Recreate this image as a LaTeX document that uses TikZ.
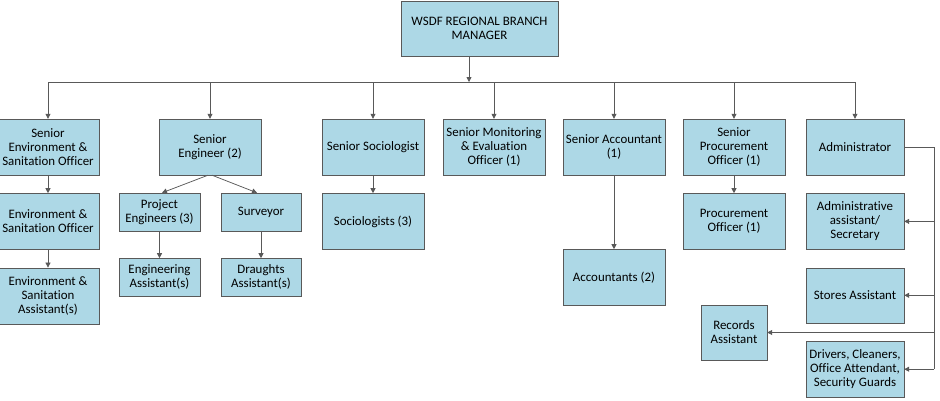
\documentclass[tikz,border=0pt]{standalone}
\usepackage{fontspec}
\setmainfont{Carlito}[Ligatures=NoCommon]
\usetikzlibrary{arrows.meta,positioning,shadows}
\definecolor{boxblue}{RGB}{173,216,230}
\definecolor{linegray}{RGB}{89,89,89}
\tikzset{
  post/.style={draw=linegray, fill=boxblue, align=center, inner sep=1pt,
    font=\fontsize{12.9}{14}\selectfont,
    drop shadow={shadow xshift=1pt, shadow yshift=-1pt, opacity=0.35}},
  wide/.style={post, minimum width=102pt, minimum height=56pt},
  small/.style={post, minimum width=81pt, minimum height=38pt},
  side/.style={post, minimum width=98pt, minimum height=56pt},
  plain/.style={draw=linegray, line width=0.75pt},
  conn/.style={plain, -{Triangle[width=5pt,length=5pt]}}
}

\begin{document}
\begin{tikzpicture}[x=1pt,y=-1pt,node distance=18pt]
  \useasboundingbox (0,0) rectangle (940,400);

  \node[post, minimum width=157pt, minimum height=55pt] (mgr) at (479.5,28.5)
    {WSDF REGIONAL BRANCH\\MANAGER};

  % heads of section
  \node[wide] (senv)  at (48,147)  {Senior\\Environment \&\\Sanitation Officer};
  \node[wide] (seng)  at (210,147) {Senior\\Engineer (2)};
  \node[wide] (ssoc)  at (373,147) {Senior Sociologist};
  \node[wide] (smne)  at (494,147) {Senior Monitoring\\\& Evaluation\\Officer (1)};
  \node[wide] (sacc)  at (614,147) {Senior Accountant\\(1)};
  \node[wide] (sproc) at (734,147) {Senior\\Procurement\\Officer (1)};
  \node[side] (admin) at (855,147) {Administrator};

  % staff
  \node[wide] (envoff)  [below=of senv]   {Environment \&\\Sanitation Officer};
  \node[wide] (envasst) [below=of envoff] {Environment \&\\Sanitation\\Assistant(s)};
  \node[small] (projeng) at (159.5,212)   {Project\\Engineers (3)};
  \node[small, minimum width=80pt] (survey) at (261,212) {Surveyor};
  \node[small] (engasst) [below=27pt of projeng] {Engineering\\Assistant(s)};
  \node[small, minimum width=80pt] (draught) [below=27pt of survey] {Draughts\\Assistant(s)};
  \node[wide] (soc)  [below=of ssoc]       {Sociologists (3)};
  \node[wide] (acc)  [below=74pt of sacc]  {Accountants (2)};
  \node[wide] (proc) [below=of sproc]      {Procurement\\Officer (1)};
  \node[side] (admasst) [below=of admin]   {Administrative\\assistant/\\Secretary};
  \node[side, minimum height=55pt] (stores) [below=of admasst] {Stores Assistant};
  \node[side] (drivers) [below=of stores]  {Drivers, Cleaners,\\Office Attendant,\\Security Guards};
  \node[post, minimum width=66pt, minimum height=55pt] (records) at (734,332.5) {Records\\Assistant};

  % bus below the manager
  \coordinate (hub) at (469,82);
  \draw[conn] (mgr.south -| hub) -- (hub);
  \draw[plain] (senv.north |- hub) -- (admin.north |- hub);
  \foreach \n in {senv,seng,ssoc,smne,sacc,sproc,admin}
    \draw[conn] (\n.north |- hub) -- (\n.north);

  \foreach \a/\b in {senv/envoff,envoff/envasst,projeng/engasst,survey/draught,
                     ssoc/soc,sacc/acc,sproc/proc}
    \draw[conn] (\a) -- (\b);
  \draw[conn] ([xshift=-2pt]seng.south) -- ([xshift=2.5pt]projeng.north);
  \draw[conn] ([xshift=2pt]seng.south) -- ([xshift=-4pt]survey.north);

  % administrator's rail
  \coordinate[right=30pt of admin] (rail);
  \draw[plain] (admin) -- (rail) -- (rail |- drivers);
  \foreach \n in {admasst,stores,records,drivers}
    \draw[conn] (rail |- \n) -- (\n);
\end{tikzpicture}
\end{document}
